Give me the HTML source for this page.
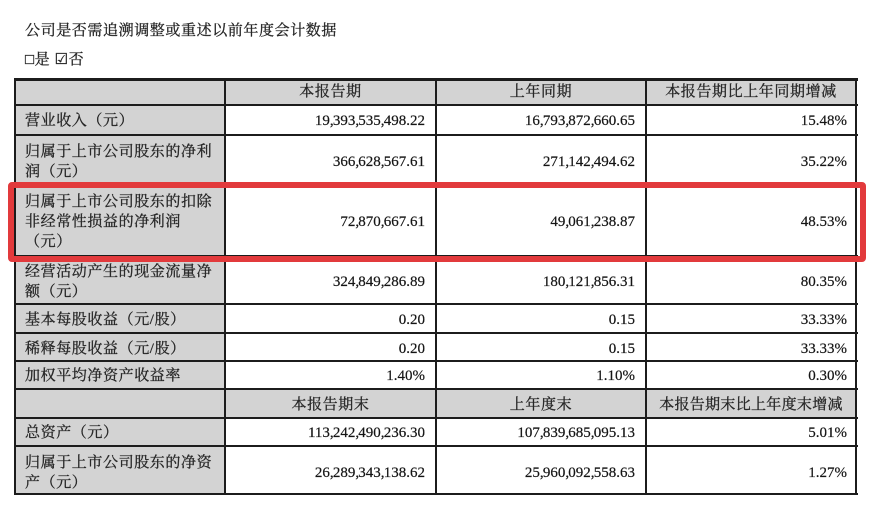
<!DOCTYPE html>
<html>
<head>
<meta charset="utf-8">
<style>
  html,body{margin:0;padding:0;background:#fff;}
  body{width:890px;height:506px;position:relative;overflow:hidden;}
  .h{position:absolute;height:2px;background:#1c1c1c;left:14px;width:844px;}
  .v{position:absolute;width:2px;background:#1c1c1c;top:78px;height:417px;}
  .g{position:absolute;background:#d3d3d3;}
  .cn{position:absolute;font-family:"Liberation Serif","Noto Serif CJK SC",serif;font-size:15px;letter-spacing:0.6px;color:#262626;line-height:20px;height:20px;white-space:nowrap;-webkit-text-stroke:0.3px #262626;}
  .lbl{left:25px;}
  .num{position:absolute;font-family:"Liberation Serif","Noto Serif CJK SC",serif;font-size:15px;color:#151515;line-height:20px;height:20px;white-space:nowrap;text-align:right;-webkit-text-stroke:0.2px #151515;}
  .k{letter-spacing:-0.8px;}
  .c2{right:465px;}
  .c3{right:255px;}
  .c4{right:43px;}
  .hd{position:absolute;font-family:"Liberation Serif","Noto Serif CJK SC",serif;font-size:15px;letter-spacing:0.6px;color:#262626;line-height:20px;height:20px;text-align:center;white-space:nowrap;-webkit-text-stroke:0.3px #262626;}
  .red{position:absolute;left:8px;top:182px;width:858px;height:80px;box-sizing:border-box;border:6px solid #e23a3c;border-radius:4px;}
</style>
</head>
<body>
  <div class="cn" style="left:25px;top:21px;">公司是否需追溯调整或重述以前年度会计数据</div>
  <div class="cn" style="left:25px;top:50px;">□是 ☑否</div>

  <div class="g" style="left:15px;top:79px;width:210px;height:415px;"></div>
  <div class="g" style="left:15px;top:79px;width:841px;height:26px;"></div>
  <div class="g" style="left:15px;top:389px;width:841px;height:29px;"></div>

  <div class="h" style="top:78px;height:3px;"></div>
  <div class="h" style="top:104px;"></div>
  <div class="h" style="top:134px;"></div>
  <div class="h" style="top:182px;"></div>
  <div class="h" style="top:255px;"></div>
  <div class="h" style="top:303px;"></div>
  <div class="h" style="top:332px;"></div>
  <div class="h" style="top:360px;"></div>
  <div class="h" style="top:388px;"></div>
  <div class="h" style="top:417px;"></div>
  <div class="h" style="top:445px;"></div>
  <div class="h" style="top:493px;"></div>

  <div class="v" style="left:14px;"></div>
  <div class="v" style="left:224px;"></div>
  <div class="v" style="left:435px;"></div>
  <div class="v" style="left:645px;"></div>
  <div class="v" style="left:855px;"></div>

  <div class="hd" style="left:225px;width:211px;top:82px;">本报告期</div>
  <div class="hd" style="left:436px;width:210px;top:82px;">上年同期</div>
  <div class="hd" style="left:646px;width:210px;top:82px;">本报告期比上年同期增减</div>

  <div class="cn lbl" style="top:111px;">营业收入（元）</div>
  <div class="num c2" style="top:111px;">19<span class="k">,</span>393<span class="k">,</span>535<span class="k">,</span>498.22</div>
  <div class="num c3" style="top:111px;">16<span class="k">,</span>793<span class="k">,</span>872<span class="k">,</span>660.65</div>
  <div class="num c4" style="top:111px;">15.48%</div>

  <div class="cn lbl" style="top:142px;">归属于上市公司股东的净利</div>
  <div class="cn lbl" style="top:162px;">润（元）</div>
  <div class="num c2" style="top:152px;">366<span class="k">,</span>628<span class="k">,</span>567.61</div>
  <div class="num c3" style="top:152px;">271<span class="k">,</span>142<span class="k">,</span>494.62</div>
  <div class="num c4" style="top:152px;">35.22%</div>

  <div class="cn lbl" style="top:192px;">归属于上市公司股东的扣除</div>
  <div class="cn lbl" style="top:212px;">非经常性损益的净利润</div>
  <div class="cn lbl" style="top:232px;">（元）</div>
  <div class="num c2" style="top:212px;">72<span class="k">,</span>870<span class="k">,</span>667.61</div>
  <div class="num c3" style="top:212px;">49<span class="k">,</span>061<span class="k">,</span>238.87</div>
  <div class="num c4" style="top:212px;">48.53%</div>

  <div class="cn lbl" style="top:262px;">经营活动产生的现金流量净</div>
  <div class="cn lbl" style="top:282px;">额（元）</div>
  <div class="num c2" style="top:272px;">324<span class="k">,</span>849<span class="k">,</span>286.89</div>
  <div class="num c3" style="top:272px;">180<span class="k">,</span>121<span class="k">,</span>856.31</div>
  <div class="num c4" style="top:272px;">80.35%</div>

  <div class="cn lbl" style="top:310px;">基本每股收益（元/股）</div>
  <div class="num c2" style="top:310px;">0.20</div>
  <div class="num c3" style="top:310px;">0.15</div>
  <div class="num c4" style="top:310px;">33.33%</div>

  <div class="cn lbl" style="top:339px;">稀释每股收益（元/股）</div>
  <div class="num c2" style="top:339px;">0.20</div>
  <div class="num c3" style="top:339px;">0.15</div>
  <div class="num c4" style="top:339px;">33.33%</div>

  <div class="cn lbl" style="top:366px;">加权平均净资产收益率</div>
  <div class="num c2" style="top:366px;">1.40%</div>
  <div class="num c3" style="top:366px;">1.10%</div>
  <div class="num c4" style="top:366px;">0.30%</div>

  <div class="hd" style="left:225px;width:211px;top:395px;">本报告期末</div>
  <div class="hd" style="left:436px;width:210px;top:395px;">上年度末</div>
  <div class="hd" style="left:646px;width:210px;top:395px;letter-spacing:0.3px;">本报告期末比上年度末增减</div>

  <div class="cn lbl" style="top:423px;">总资产（元）</div>
  <div class="num c2" style="top:423px;">113<span class="k">,</span>242<span class="k">,</span>490<span class="k">,</span>236.30</div>
  <div class="num c3" style="top:423px;">107<span class="k">,</span>839<span class="k">,</span>685<span class="k">,</span>095.13</div>
  <div class="num c4" style="top:423px;">5.01%</div>

  <div class="cn lbl" style="top:453px;">归属于上市公司股东的净资</div>
  <div class="cn lbl" style="top:473px;">产（元）</div>
  <div class="num c2" style="top:463px;">26<span class="k">,</span>289<span class="k">,</span>343<span class="k">,</span>138.62</div>
  <div class="num c3" style="top:463px;">25<span class="k">,</span>960<span class="k">,</span>092<span class="k">,</span>558.63</div>
  <div class="num c4" style="top:463px;">1.27%</div>

  <div class="red"></div>
</body>
</html>
